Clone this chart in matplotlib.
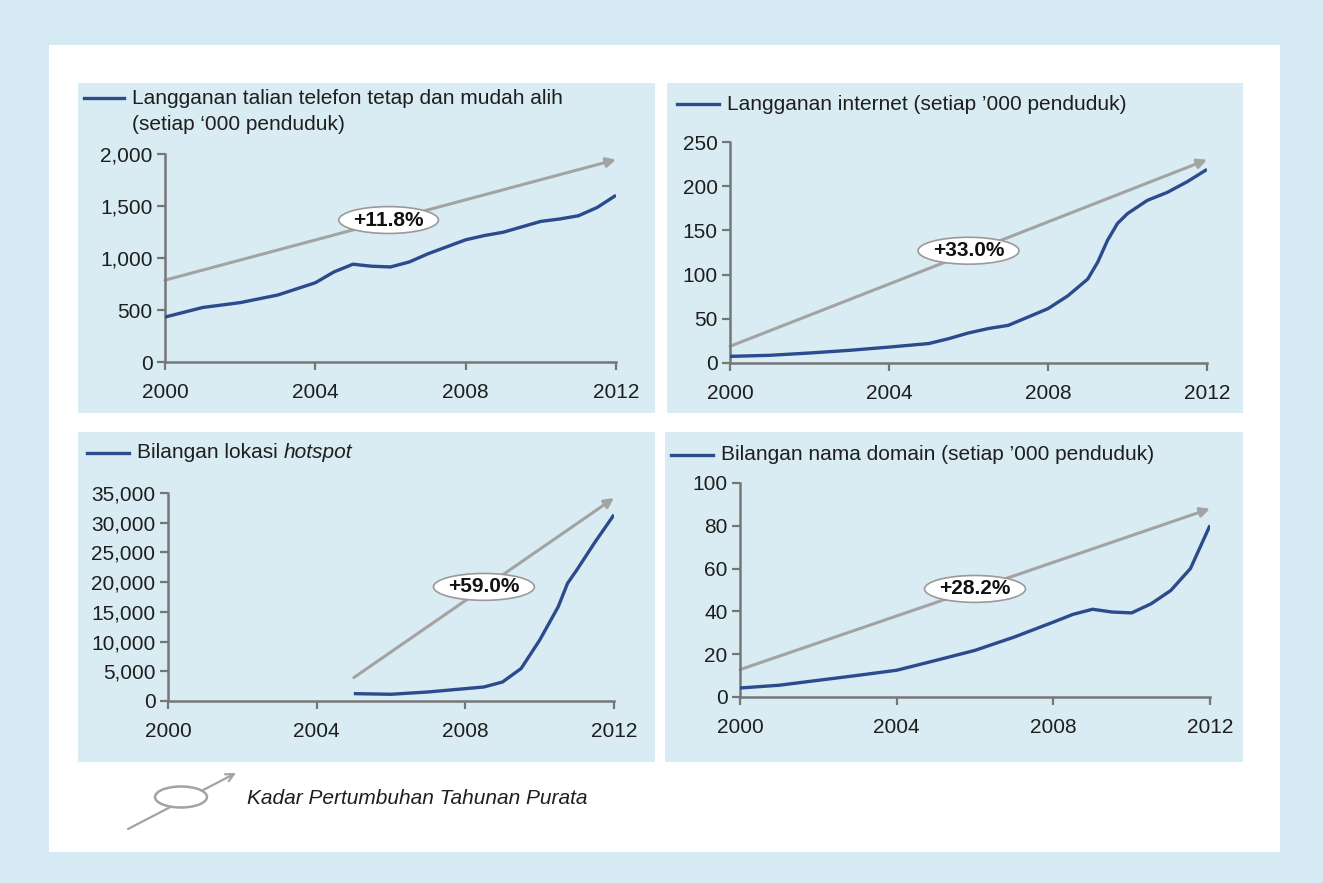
import matplotlib
matplotlib.use("Agg")
import matplotlib.pyplot as plt
from matplotlib.patches import Rectangle, Ellipse, FancyArrowPatch
from matplotlib.lines import Line2D
from matplotlib.ticker import FuncFormatter

plt.rcParams["font.family"] = ["Liberation Sans", "DejaVu Sans"]

# data
tel_years = [2000, 2001, 2002, 2003, 2004, 2004.5, 2005, 2005.5, 2006, 2006.5,
             2007, 2008, 2008.5, 2009, 2010, 2010.5, 2011, 2011.5, 2012]
tel_vals = [432, 524, 571, 644, 762, 867, 940, 921, 914, 962,
            1041, 1175, 1216, 1248, 1352, 1375, 1406, 1486, 1603]

net_years = [2000, 2001, 2002, 2003, 2004, 2005, 2005.5, 2006, 2006.5, 2007,
             2007.5, 2008, 2008.5, 2009, 2009.25, 2009.5, 2009.75, 2010,
             2010.5, 2011, 2011.5, 2012]
net_vals = [7.5, 8.7, 11.3, 14.3, 18, 22, 27.5, 34, 39, 42.6,
            52, 61.5, 76, 95, 114, 139, 158, 169,
            184, 193, 205, 219]

hot_years = [2005, 2006, 2007, 2008, 2008.5, 2009, 2009.5, 2010, 2010.5,
             2010.75, 2011, 2011.5, 2012]
hot_vals = [1240, 1130, 1520, 2080, 2360, 3200, 5460, 10240, 15870,
            19800, 22060, 26840, 31340]

dom_years = [2000, 2001, 2002, 2003, 2004, 2005, 2006, 2007, 2008, 2008.5,
             2009, 2009.5, 2010, 2010.5, 2011, 2011.5, 2012]
dom_vals = [4.2, 5.5, 7.8, 10.1, 12.5, 17.1, 21.8, 28, 35, 38.6,
            41, 39.7, 39.3, 43.6, 49.8, 60, 80.2]

# growth arrows: (start year, start value, end year, end value); labels with position
tel_arrow = (2000, 787, 2012, 1946)
net_arrow = (2000, 18.9, 2012, 230)
hot_arrow = (2005, 3940, 2012, 34160)
dom_arrow = (2000, 12.8, 2012, 88)
tel_label = ("+11.8%", 2005.95, 1365)
net_label = ("+33.0%", 2006.0, 127)
hot_label = ("+59.0%", 2008.5, 19200)
dom_label = ("+28.2%", 2006.0, 50.5)

W, H = 1323, 883
BLUE = "#2c4b8c"
GREY = "#a3a3a3"
AXC = "#767676"
TXT = "#1e1e1e"
FS = 15

fig = plt.figure(figsize=(W / 100, H / 100), dpi=100)
fig.patch.set_facecolor("#d6eaf3")


def fb(x0, y0, x1, y1):
    return [x0 / W, 1 - y1 / H, (x1 - x0) / W, (y1 - y0) / H]


def fx(x):
    return x / W


def fy(y):
    return 1 - y / H


fig.add_artist(Rectangle((fx(49), fy(852)), (1280 - 49) / W, (852 - 45) / H,
                         transform=fig.transFigure, fc="white", ec="none", zorder=0))
for box in [(78, 83, 655, 413), (667, 83, 1243, 413),
            (78, 432, 655, 762), (665, 432, 1243, 762)]:
    x0, y0, x1, y1 = box
    fig.add_artist(Rectangle((fx(x0), fy(y1)), (x1 - x0) / W, (y1 - y0) / H,
                             transform=fig.transFigure, fc="#d9ebf3", ec="none",
                             zorder=0))


def panel(rect, years, vals, ymax, ystep, arrow, label):
    ax = fig.add_axes(fb(*rect))
    ax.set_facecolor("none")
    ax.plot(years, vals, color=BLUE, lw=2.4, solid_capstyle="butt",
            solid_joinstyle="round", zorder=3)
    x0, y0, x1, y1 = arrow
    ax.annotate("", xy=(x1, y1), xytext=(x0, y0),
                arrowprops=dict(arrowstyle="-|>", color=GREY, lw=2.2,
                                mutation_scale=14, shrinkA=0, shrinkB=0),
                zorder=2, annotation_clip=False)
    txt, lx, ly = label
    ax.text(lx, ly, txt, ha="center", va="center", fontsize=FS,
            fontweight="bold", color="#111111", zorder=4,
            bbox=dict(boxstyle="ellipse,pad=0.0", fc="white", ec="#9a9a9a", lw=1.2))
    ax.set_xlim(2000, 2012)
    ax.set_ylim(0, ymax)
    ax.set_xticks([2000, 2004, 2008, 2012])
    ax.set_yticks(range(0, ymax + 1, ystep))
    ax.yaxis.set_major_formatter(FuncFormatter(lambda v, p: f"{int(v):,}"))
    for s in ["top", "right"]:
        ax.spines[s].set_visible(False)
    for s in ["left", "bottom"]:
        ax.spines[s].set_color(AXC)
        ax.spines[s].set_linewidth(1.8)
    ax.tick_params(axis="both", colors=AXC, width=1.6, length=6,
                   labelsize=FS, labelcolor=TXT)
    ax.tick_params(axis="x", pad=9)
    ax.tick_params(axis="y", pad=3)
    return ax


panel((165, 154, 616, 362), tel_years, tel_vals, 2000, 500, tel_arrow, tel_label)
panel((730, 142, 1207, 363), net_years, net_vals, 250, 50, net_arrow, net_label)
panel((168, 493, 614, 701), hot_years, hot_vals, 35000, 5000, hot_arrow, hot_label)
panel((740, 483, 1210, 697), dom_years, dom_vals, 100, 20, dom_arrow, dom_label)


def legend(x0, x1, y, text):
    fig.add_artist(Line2D([fx(x0), fx(x1)], [fy(y), fy(y)], color=BLUE, lw=2.4,
                          transform=fig.transFigure))
    return fig.text(fx(x1 + 8), fy(y), text, ha="left", va="center",
                    fontsize=FS, color=TXT)


legend(84, 124, 98, "Langganan talian telefon tetap dan mudah alih")
fig.text(fx(132), fy(124), "(setiap \u2018000 penduduk)", ha="left", va="center",
         fontsize=FS, color=TXT)
legend(677, 719, 104, "Langganan internet (setiap \u2019000 penduduk)")
t = legend(87, 129, 453, "Bilangan lokasi ")
fig.canvas.draw()
bb = t.get_window_extent()
fig.text(bb.x1 / W, fy(453), "hotspot", ha="left", va="center", fontsize=FS,
         color=TXT, style="italic")
legend(671, 713, 455, "Bilangan nama domain (setiap \u2019000 penduduk)")

# key at the bottom
fig.add_artist(FancyArrowPatch((fx(128), fy(829)), (fx(236), fy(773)),
                               transform=fig.transFigure, arrowstyle="->",
                               mutation_scale=14, color=GREY, lw=1.6,
                               shrinkA=0, shrinkB=0, zorder=1))
fig.add_artist(Ellipse((fx(181), fy(797)), 52 / W, 21 / H, transform=fig.transFigure,
                       fc="white", ec=GREY, lw=1.8, zorder=2))
fig.text(fx(247), fy(798), "Kadar Pertumbuhan Tahunan Purata", ha="left",
         va="center", fontsize=FS, color=TXT, style="italic")

fig.savefig("out.png", dpi=100, facecolor=fig.get_facecolor())
